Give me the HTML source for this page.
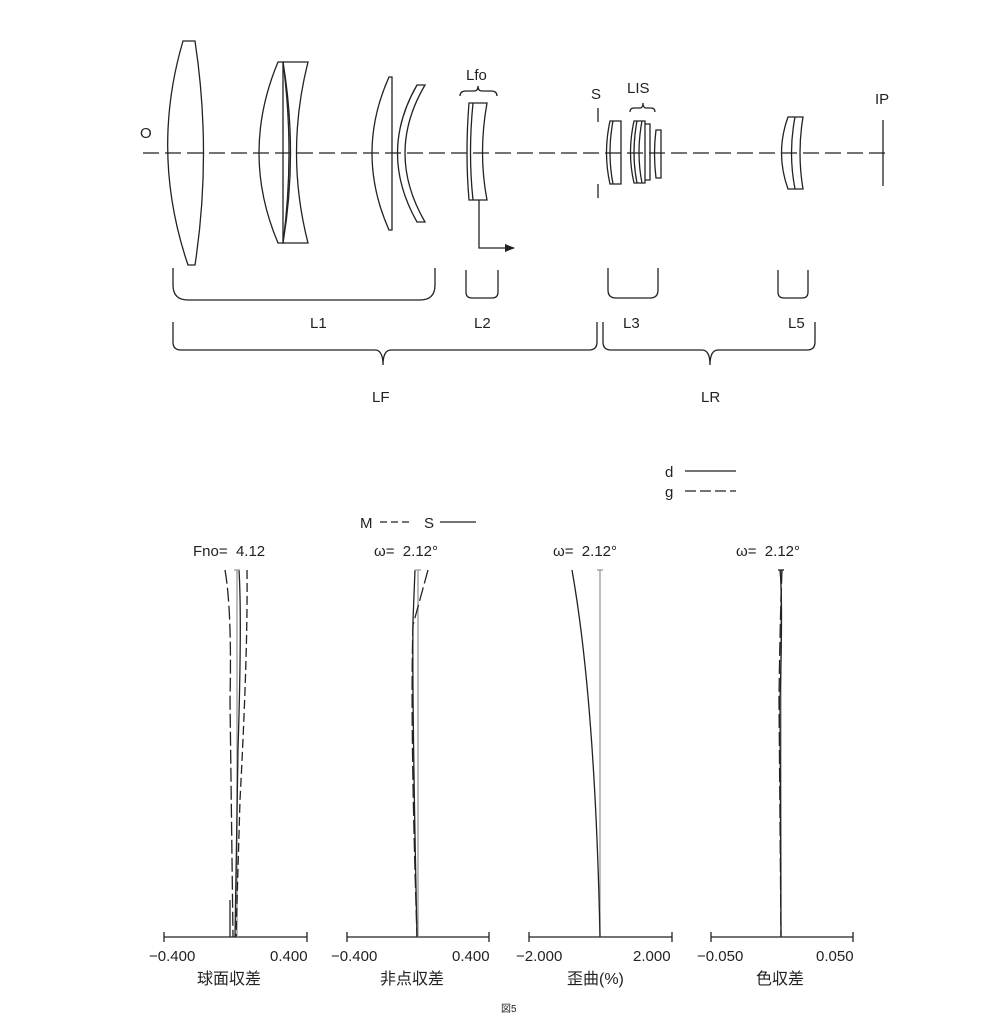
<!DOCTYPE html>
<html><head><meta charset="utf-8"><style>
body{margin:0;background:#fff;}
svg{display:block;font-family:"Liberation Sans","Noto Sans CJK JP",sans-serif;}
</style></head><body>
<svg width="1003" height="1024" viewBox="0 0 1003 1024" xmlns="http://www.w3.org/2000/svg">
<defs><marker id="ah" markerWidth="10" markerHeight="8" refX="9" refY="4" orient="auto" markerUnits="userSpaceOnUse"><path d="M0,0 L10,4 L0,8 Z" fill="#222"/></marker></defs>
<g fill="none" stroke="#222" stroke-width="1.3">
<line x1="143" y1="153" x2="888" y2="153" stroke-dasharray="16,6"/>
<path d="M183,41 L195,41 Q212,153 195,265 L188,265 Q150,153 183,41 Z"/>
<path d="M278,62 L283,62 L283,243 L278,243 Q240,153 278,62 Z"/>
<path d="M283,62 L308,62 Q285,153 308,243 L283,243 Q295,153 283,62 Z"/>
<path d="M283,62 Q298,153 283,243"/>
<path d="M389,77 L392,77 L392,230 L389,230 Q355,153 389,77 Z"/>
<path d="M417,85 L425,85 Q385,153 425,222 L417,222 Q378,153 417,85 Z"/>
<path d="M469,103 L487,103 Q478,153 487,200 L469,200 Q465,153 469,103 Z"/>
<path d="M473,103 Q468,153 473,200"/>
<path d="M479,200 L479,248 L514,248" marker-end="url(#ah)"/>
<path d="M460,96 Q460,91 466,91 L474,91 Q478,91 478,86 Q478,91 482,91 L491,91 Q497,91 497,96"/>
<line x1="598" y1="108" x2="598" y2="122"/>
<line x1="598" y1="184" x2="598" y2="198"/>
<path d="M610,121 L621,121 L621,184 L610,184 Q603,153 610,121 Z"/>
<path d="M613,121 Q607,153 613,184"/>
<path d="M634,121 L645,121 L645,183 L634,183 Q627,153 634,121 Z"/>
<path d="M637,121 Q631,153 637,183"/>
<path d="M642,121 Q636,153 642,183"/>
<path d="M645,124 L650,124 L650,180 L645,180"/>
<path d="M656,130 L661,130 L661,178 L656,178 Q653,153 656,130 Z"/>
<path d="M630,112 Q630,108 634,108 L640,108 Q643,108 643,103 Q643,108 646,108 L651,108 Q655,108 655,112"/>
<path d="M788,117 L803,117 Q797,153 803,189 L788,189 Q775,153 788,117 Z"/>
<path d="M795,117 Q788,153 795,189"/>
<line x1="883" y1="120" x2="883" y2="186"/>
<path d="M173,268 L173,285 Q173,300 188,300 L420,300 Q435,300 435,285 L435,268"/>
<path d="M466,270 L466,292 Q466,298 472,298 L492,298 Q498,298 498,292 L498,270"/>
<path d="M608,268 L608,290 Q608,298 616,298 L650,298 Q658,298 658,290 L658,268"/>
<path d="M778,270 L778,292 Q778,298 784,298 L802,298 Q808,298 808,292 L808,270"/>
<path d="M173,322 L173,342 Q173,350 181,350 L375,350 Q383,350 383,365 Q383,350 391,350 L589,350 Q597,350 597,342 L597,322"/>
<path d="M603,322 L603,342 Q603,350 611,350 L702,350 Q710,350 710,365 Q710,350 718,350 L807,350 Q815,350 815,342 L815,322"/>
<line x1="685" y1="471" x2="736" y2="471"/>
<line x1="685" y1="491" x2="736" y2="491" stroke-dasharray="11,4"/>
<line x1="380" y1="522" x2="410" y2="522" stroke-dasharray="7,4"/>
<line x1="440" y1="522" x2="476" y2="522"/>
<g>
<line x1="164" y1="937" x2="307" y2="937"/><line x1="164" y1="932" x2="164" y2="942"/><line x1="307" y1="932" x2="307" y2="942"/>
<line x1="347" y1="937" x2="489" y2="937"/><line x1="347" y1="932" x2="347" y2="942"/><line x1="489" y1="932" x2="489" y2="942"/>
<line x1="529" y1="937" x2="672" y2="937"/><line x1="529" y1="932" x2="529" y2="942"/><line x1="672" y1="932" x2="672" y2="942"/>
<line x1="711" y1="937" x2="853" y2="937"/><line x1="711" y1="932" x2="711" y2="942"/><line x1="853" y1="932" x2="853" y2="942"/>
</g>
<line x1="237" y1="570" x2="237" y2="937" stroke="#999"/>
<line x1="230" y1="900" x2="230" y2="937"/>
<path d="M239,570 Q242,620 238,750 L235,937"/>
<path d="M247,570 Q248,650 240,800 L236,937" stroke-dasharray="9,4"/>
<path d="M225,570 Q232,610 230,700 L233,937" stroke-dasharray="14,4"/>
<line x1="234" y1="570" x2="240" y2="570" stroke="#999"/>
<line x1="418" y1="570" x2="418" y2="937" stroke="#999"/>
<path d="M415,570 L413,620 Q412,700 417,937"/>
<path d="M428,570 L413,625 Q410,720 417,937" stroke-dasharray="14,4"/>
<line x1="415" y1="570" x2="421" y2="570" stroke="#999"/>
<line x1="600" y1="570" x2="600" y2="937" stroke="#999"/>
<path d="M572,570 Q595,700 600,937"/>
<line x1="597" y1="570" x2="603" y2="570" stroke="#999"/>
<line x1="781" y1="570" x2="781" y2="937" stroke="#999"/>
<path d="M780,570 Q783,600 780,700 L781,937"/>
<path d="M782,570 Q780,620 779,700 L781,937" stroke-dasharray="14,4"/>
<line x1="778" y1="570" x2="784" y2="570"/>
</g>
<g fill="#222" font-size="15">
<text x="140" y="138">O</text>
<text x="466" y="80">Lfo</text>
<text x="591" y="99">S</text>
<text x="627" y="93">LIS</text>
<text x="875" y="104">IP</text>
<text x="310" y="328">L1</text>
<text x="474" y="328">L2</text>
<text x="623" y="328">L3</text>
<text x="788" y="328">L5</text>
<text x="372" y="402">LF</text>
<text x="701" y="402">LR</text>
<text x="665" y="477">d</text>
<text x="665" y="497">g</text>
<text x="360" y="528">M</text>
<text x="424" y="528">S</text>
<text x="193" y="556" xml:space="preserve">Fno=  4.12</text>
<text x="374" y="556" xml:space="preserve">ω=  2.12°</text>
<text x="553" y="556" xml:space="preserve">ω=  2.12°</text>
<text x="736" y="556" xml:space="preserve">ω=  2.12°</text>
<text x="149" y="961">−0.400</text><text x="270" y="961">0.400</text>
<text x="331" y="961">−0.400</text><text x="452" y="961">0.400</text>
<text x="516" y="961">−2.000</text><text x="633" y="961">2.000</text>
<text x="697" y="961">−0.050</text><text x="816" y="961">0.050</text>
<text x="197" y="984" font-size="16">球面収差</text>
<text x="380" y="984" font-size="16">非点収差</text>
<text x="567" y="984" font-size="16">歪曲(%)</text>
<text x="756" y="984" font-size="16">色収差</text>
<text x="501" y="1012" font-size="10">図5</text>
</g>
</svg>
</body></html>
